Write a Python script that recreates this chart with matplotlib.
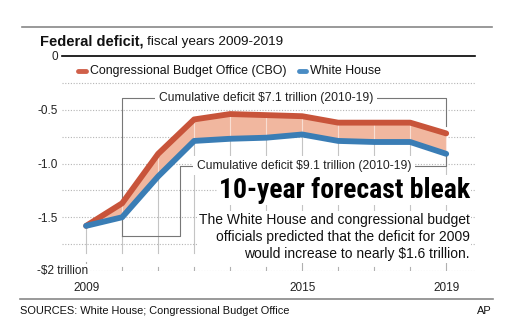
import numpy as np
import matplotlib
matplotlib.use('Agg')
import matplotlib.pyplot as plt
from matplotlib.lines import Line2D
from matplotlib import font_manager
from matplotlib.font_manager import FontProperties

# Data (trillions of dollars, negative = deficit)
years = [2009, 2010, 2011, 2012, 2013, 2014, 2015, 2016, 2017, 2018, 2019]
cbo = [-1.58, -1.37, -0.91, -0.59, -0.54, -0.55, -0.56, -0.62, -0.62, -0.62, -0.72]
white_house = [-1.58, -1.50, -1.12, -0.79, -0.77, -0.76, -0.73, -0.79, -0.80, -0.80, -0.91]

ytick_vals = [0, -0.5, -1.0, -1.5]
ytick_labels = ['0', '-0.5', '-1.0', '-1.5']
xtick_vals = [2009, 2015, 2019]
grid_vals = [-0.25, -0.5, -0.75, -1.0, -1.25, -1.5, -1.75, -2.0]

RED = '#c8543a'
BLUE = '#3a7db5'
FILL = '#f1b79f'
GRAY = '#777777'

plt.rcParams['font.family'] = ['Liberation Sans', 'DejaVu Sans']

# look for a condensed bold face for the headline
headline_font = None
for key in ['LiberationSansNarrow-Bold', 'RobotoCondensed-Bold', 'DejaVuSansCondensed-Bold',
            'Roboto-Bold', 'LiberationSans-Bold']:
    hits = [f.fname for f in font_manager.fontManager.ttflist if key in f.fname.replace(' ', '')]
    if hits:
        headline_font = FontProperties(fname=hits[0])
        break
if headline_font is None:
    headline_font = FontProperties(family='Liberation Sans', weight='bold')

fig = plt.figure(figsize=(5.12, 3.29), dpi=100)
ax = fig.add_axes([62 / 512, 1 - 271 / 329, (475 - 62) / 512, (271 - 56) / 329])
ax.set_xlim(2008.33, 2019.8)
ax.set_ylim(-2.0, 0)
for s in ax.spines.values():
    s.set_visible(False)

# dotted grid + zero line
for g in grid_vals:
    ax.axhline(g, color='#b5b5b5', lw=0.8, ls=(0, (1, 1.5)), zorder=0)
ax.axhline(0, color='black', lw=1.2, zorder=1, clip_on=False)

# vertical year lines under the series and ticks at the bottom
for x, lo, hi in zip(years, white_house, cbo):
    ax.plot([x, x], [-1.83, lo], color='#c4c4c4', lw=0.8, zorder=1)
    tick_top = -1.92 if x in xtick_vals else -1.96
    ax.plot([x, x], [-2.0, tick_top], color='#b0b0b0', lw=0.8, zorder=1)

ax.fill_between(years, white_house, cbo, color=FILL, zorder=2, lw=0)
for x, lo, hi in zip(years, white_house, cbo):
    ax.plot([x, x], [lo, hi], color='white', alpha=0.55, lw=0.8, zorder=2.5)
ax.plot(years, cbo, color=RED, lw=4.2, zorder=3, solid_capstyle='round', solid_joinstyle='round')
ax.plot(years, white_house, color=BLUE, lw=4.2, zorder=4, solid_capstyle='round', solid_joinstyle='round')

# brackets
ax.plot([2010, 2010, 2019, 2019], [-1.67, -0.39, -0.39, -0.65], color=GRAY, lw=0.8, zorder=1.5)
ax.plot([2010, 2011.6, 2011.6, 2019, 2019], [-1.67, -1.67, -1.02, -1.02, -0.93], color=GRAY, lw=0.8, zorder=1.5)
ax.text(2014.0, -0.39, 'Cumulative deficit $7.1 trillion (2010-19)', ha='center', va='center',
        fontsize=8.7, color='#222222', zorder=5,
        bbox=dict(fc='white', ec='none', pad=2.5))
ax.text(2015.05, -1.02, 'Cumulative deficit $9.1 trillion (2010-19)', ha='center', va='center',
        fontsize=8.7, color='#222222', zorder=5,
        bbox=dict(fc='white', ec='none', pad=2.5))

# axes ticks
ax.set_yticks(ytick_vals)
ax.set_yticklabels(ytick_labels)
ax.set_xticks(xtick_vals)
ax.set_xticklabels([str(x) for x in xtick_vals])
ax.tick_params(axis='both', length=0, labelsize=8.5, labelcolor='#222222')
ax.tick_params(axis='y', pad=3)
ax.tick_params(axis='x', pad=8)
ax.text(-25 / 413, -2.0, '-$2 trillion', transform=ax.get_yaxis_transform(),
        ha='left', va='center', fontsize=8.5, color='#222222',
        bbox=dict(fc='white', ec='none', pad=0.5))

# headline, sized so it spans the same width as in the source
head = fig.text(470 / 512, 1 - 190 / 329, '10-year forecast bleak', fontproperties=headline_font,
                fontsize=21, ha='right', va='center', color='black',
                bbox=dict(fc='white', ec='none', pad=1))
fig.canvas.draw()
w = head.get_window_extent().width
head.set_fontsize(min(24, 21 * 252 / w))

fig.text(470 / 512, 1 - 237 / 329,
         'The White House and congressional budget\nofficials predicted that the deficit for 2009\n'
         'would increase to nearly $1.6 trillion.',
         fontsize=10, ha='right', va='center', multialignment='right', linespacing=1.3,
         color='#111111', bbox=dict(fc='white', ec='none', pad=1))

# title (shared baseline)
fig.add_artist(Line2D([22 / 512, 492 / 512], [1 - 27 / 329] * 2, color='#888888', lw=1.2))
t = fig.text(40 / 512, 1 - 45 / 329, 'Federal deficit,', fontsize=10.5, fontweight='bold',
             ha='left', va='baseline', color='#111111')
fig.canvas.draw()
bb = t.get_window_extent()
fig.text((bb.x1 + 3) / 512, 1 - 45 / 329, 'fiscal years 2009-2019', fontsize=9.7,
         ha='left', va='baseline', color='#111111')

# legend
ly = 1 - 71 / 329
fig.add_artist(Line2D([78 / 512, 86 / 512], [ly, ly], color='#d0604a', lw=3.5, solid_capstyle='round'))
fig.text(90 / 512, ly, 'Congressional Budget Office (CBO)', fontsize=8.9, ha='left', va='center', color='#111111')
fig.add_artist(Line2D([299 / 512, 306 / 512], [ly, ly], color='#4a8cc4', lw=3.5, solid_capstyle='round'))
fig.text(310 / 512, ly, 'White House', fontsize=8.9, ha='left', va='center', color='#111111')

# footer
fig.add_artist(Line2D([20 / 512, 493 / 512], [1 - 299 / 329] * 2, color='#888888', lw=1.2))
fig.text(20 / 512, 1 - 311 / 329, 'SOURCES: White House; Congressional Budget Office', fontsize=7.9,
         ha='left', va='center', color='#111111')
fig.text(492 / 512, 1 - 311 / 329, 'AP', fontsize=7.9, ha='right', va='center', color='#111111')

fig.savefig('out.png', dpi=100, facecolor='white')
